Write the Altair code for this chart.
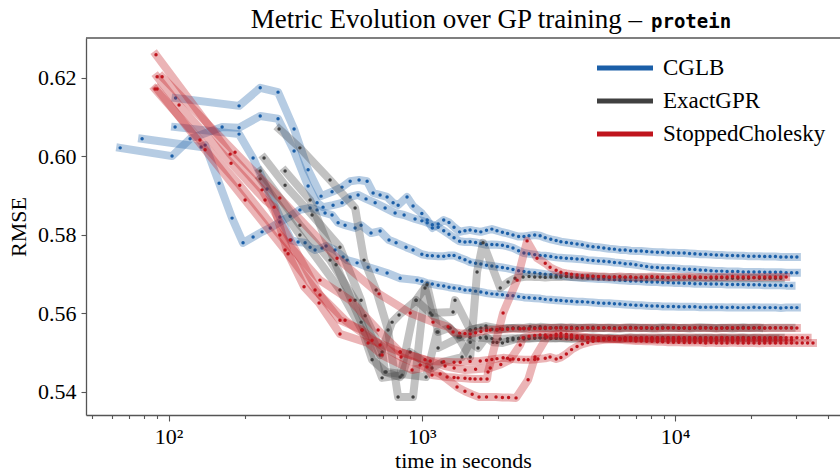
import altair as alt
import pandas as pd

METHODS = ["CGLB", "ExactGPR", "StoppedCholesky"]
COLORS = ["#1b5fa8", "#404040", "#c0151d"]

TITLE_MAIN = "Metric Evolution over GP training \u2013"
TITLE_DATASET = "protein"
X_TITLE = "time in seconds"
Y_TITLE = "RMSE"

# shared evaluation times (seconds) of the dense middle and converged phases
MID_T = [1000, 1050, 1100, 1160, 1220, 1280, 1340, 1410, 1480, 1550, 1630, 1710, 1800, 1890, 1980, 2080, 2180, 2290,
         2410, 2530, 2650, 2790, 2930, 3070, 3230, 3390]
LATE_T = [3540, 3720, 3900, 4100, 4300, 4520, 4740, 4980, 5230, 5490, 5760, 6050, 6350, 6670, 7000, 7350, 7720, 8100,
          8510, 8930, 9380, 9850, 10340, 10860, 11400, 11970, 12570, 13200, 13860, 14550, 15280, 16040, 16850, 17690,
          18570, 19500, 20480, 21500, 22580, 23700, 24890, 26130, 27440, 28810, 30250, 31770, 33350, 35020]

# ---------------- CGLB runs ----------------
CGLB_T = [
    [106.6, 189.8, 230, 270.5, 313, 355.5, 399.9, 442, 484, 521, 565, 608, 642, 684, 729, 770, 806, 874, 923],
    [64.4, 103.2, 121.6, 162.7, 189.8, 230, 270.5, 313, 355.5, 385.7, 407.3, 446.1, 484, 521, 560, 602, 654, 716, 784, 851,
     940],
    [78.6, 134.4, 139.4, 158.3, 178.1, 196.8, 215.6, 233.9, 252, 275, 302, 330, 362, 385.7, 414.8, 442, 467, 497.6, 545, 575.5,
     630, 684, 742, 791, 866, 923],
    [106.1, 189.8, 215.6, 244.8, 275, 304.6, 324.6, 345.9, 362, 378.8, 403.6, 418.7, 454.3, 488.6, 506.7, 554.9, 613.4, 665.6,
     729, 821, 957],
]
CGLB_R = [
    [0.6149, 0.6129, 0.6175, 0.6164, 0.6070, 0.5966, 0.5899, 0.5910, 0.5922, 0.5937, 0.5940, 0.5937, 0.5907, 0.5902, 0.5897,
     0.5882, 0.5876, 0.5897, 0.5874],
    [0.6022, 0.6001, 0.6045, 0.6075, 0.6073, 0.6103, 0.6096, 0.6014, 0.5925, 0.5882, 0.5871, 0.5876, 0.5882, 0.5897, 0.5902,
     0.5892, 0.5882, 0.5869, 0.5856, 0.5851, 0.5841],
    [0.6045, 0.6024, 0.6029, 0.5932, 0.5843, 0.5780, 0.5795, 0.5808, 0.5818, 0.5833, 0.5848, 0.5864, 0.5869, 0.5864, 0.5856,
     0.5851, 0.5831, 0.5825, 0.5818, 0.5825, 0.5805, 0.5810, 0.5787, 0.5780, 0.5769, 0.5762],
    [0.6075, 0.6057, 0.5996, 0.5917, 0.5846, 0.5787, 0.5782, 0.5780, 0.5769, 0.5762, 0.5767, 0.5772, 0.5762, 0.5744, 0.5736,
     0.5729, 0.5718, 0.5711, 0.5703, 0.5690, 0.5685],
]
CGLB_MID = [
    [0.5855, 0.5838, 0.5818, 0.5828, 0.5838, 0.5832, 0.5820, 0.5808, 0.5811, 0.5813, 0.5810, 0.5808, 0.5812, 0.5815, 0.5811,
     0.5807, 0.5804, 0.5800, 0.5796, 0.5796, 0.5798, 0.5800, 0.5798, 0.5793, 0.5789, 0.5786],
    [0.5836, 0.5831, 0.5826, 0.5820, 0.5811, 0.5802, 0.5793, 0.5784, 0.5782, 0.5783, 0.5781, 0.5778, 0.5775, 0.5776, 0.5775,
     0.5774, 0.5771, 0.5767, 0.5760, 0.5754, 0.5752, 0.5750, 0.5748, 0.5747, 0.5745, 0.5743],
    [0.5751, 0.5748, 0.5747, 0.5746, 0.5746, 0.5748, 0.5748, 0.5742, 0.5737, 0.5731, 0.5728, 0.5726, 0.5723, 0.5721, 0.5719,
     0.5717, 0.5715, 0.5712, 0.5709, 0.5707, 0.5705, 0.5704, 0.5702, 0.5700, 0.5699, 0.5697],
    [0.5682, 0.5677, 0.5675, 0.5672, 0.5670, 0.5667, 0.5665, 0.5663, 0.5660, 0.5659, 0.5657, 0.5655, 0.5652, 0.5650, 0.5649,
     0.5648, 0.5646, 0.5645, 0.5643, 0.5641, 0.5640, 0.5639, 0.5638, 0.5636, 0.5635, 0.5634],
]
CGLB_TAIL = [
    [0.5783, 0.5781, 0.5779, 0.5777, 0.5775, 0.5772, 0.5770, 0.5769, 0.5767, 0.5765, 0.5764, 0.5762, 0.5762, 0.5760, 0.5759,
     0.5759, 0.5758, 0.5757, 0.5756, 0.5756, 0.5755, 0.5755, 0.5754, 0.5754, 0.5753, 0.5752, 0.5751, 0.5751, 0.5750, 0.5749,
     0.5749, 0.5748, 0.5748, 0.5747, 0.5747, 0.5746, 0.5746, 0.5746, 0.5745, 0.5745, 0.5745, 0.5744, 0.5744, 0.5744, 0.5744],
    [0.5742, 0.5741, 0.5740, 0.5739, 0.5738, 0.5736, 0.5735, 0.5734, 0.5733, 0.5732, 0.5730, 0.5729, 0.5727, 0.5726, 0.5724,
     0.5722, 0.5720, 0.5718, 0.5717, 0.5716, 0.5716, 0.5715, 0.5714, 0.5713, 0.5713, 0.5712, 0.5711, 0.5710, 0.5709, 0.5708,
     0.5708, 0.5707, 0.5707, 0.5707, 0.5706, 0.5706, 0.5706, 0.5706, 0.5705, 0.5705, 0.5705, 0.5705, 0.5704, 0.5704, 0.5704],
    [0.5696, 0.5695, 0.5693, 0.5692, 0.5691, 0.5690, 0.5689, 0.5688, 0.5688, 0.5687, 0.5686, 0.5685, 0.5684, 0.5683, 0.5683,
     0.5682, 0.5681, 0.5680, 0.5680, 0.5679, 0.5679, 0.5678, 0.5678, 0.5677, 0.5677, 0.5676, 0.5676, 0.5676, 0.5675, 0.5675,
     0.5675, 0.5674, 0.5674, 0.5674, 0.5674, 0.5673, 0.5673, 0.5673, 0.5672, 0.5672, 0.5672, 0.5672, 0.5671, 0.5671],
    [0.5633, 0.5632, 0.5631, 0.5630, 0.5630, 0.5629, 0.5628, 0.5627, 0.5626, 0.5626, 0.5625, 0.5624, 0.5623, 0.5622, 0.5621,
     0.5621, 0.5620, 0.5619, 0.5619, 0.5618, 0.5618, 0.5618, 0.5617, 0.5617, 0.5617, 0.5617, 0.5616, 0.5616, 0.5616, 0.5616,
     0.5616, 0.5615, 0.5616, 0.5615, 0.5615, 0.5615, 0.5616, 0.5615, 0.5615, 0.5615, 0.5615, 0.5614, 0.5615, 0.5615, 0.5615],
]

# ---------------- ExactGPR runs ----------------
EXACT_T = [
    [273.1, 330, 434, 545, 591.4, 659.6, 735.6, 805.6, 923.1, 1029, 1097, 1294, 1390, 1552, 1652, 1744, 2039, 2190, 2334,
     2510, 2650, 2790, 2930, 3070, 3230, 3390],
    [238.2, 288.4, 368.6, 475, 575.5, 597, 696.6, 715.8, 821, 948.7, 1048, 1159, 1281, 1417, 1552, 1630, 1710, 1800, 1890,
     1980, 2080, 2180, 2290, 2410, 2530, 2650, 2790, 2930, 3070, 3230, 3390],
    [288.4, 362, 458.4, 575.5, 696.6, 835.3, 899, 1097, 1201.5, 1441, 1552, 1667, 1792, 1910, 1980, 2080, 2180, 2290, 2410,
     2530, 2650, 2790, 2930, 3070, 3230, 3390],
    [230, 330, 434, 545, 684, 762.9, 812.8, 948.7, 1079, 1328, 1352, 1552, 1792, 2039, 2290, 2410, 2530, 2675, 2790, 2930,
     3070, 3230, 3390],
    [230, 330, 475, 580.7, 636.1, 722.3, 1039, 1148, 1159, 1417, 1550, 1700, 1800, 1890, 2039, 2180, 2290, 2410, 2530, 2650,
     2790, 2930, 3070, 3230, 3390],
]
EXACT_R = [
    [0.6070, 0.6022, 0.5940, 0.5869, 0.5736, 0.5660, 0.5558, 0.5387, 0.5387, 0.5665, 0.5596, 0.5563, 0.5540, 0.5489, 0.5706,
     0.5780, 0.5665, 0.5680, 0.5690, 0.5693, 0.5694, 0.5693, 0.5693, 0.5692, 0.5693, 0.5693],
    [0.5996, 0.5927, 0.5851, 0.5769, 0.5634, 0.5594, 0.5502, 0.5451, 0.5438, 0.5634, 0.5673, 0.5553, 0.5563, 0.5540, 0.5558,
     0.5561, 0.5563, 0.5562, 0.5560, 0.5558, 0.5560, 0.5563, 0.5563, 0.5562, 0.5561, 0.5562, 0.5564, 0.5566, 0.5565, 0.5564,
     0.5564],
    [0.5963, 0.5889, 0.5724, 0.5578, 0.5436, 0.5443, 0.5502, 0.5461, 0.5476, 0.5489, 0.5527, 0.5512, 0.5540, 0.5527, 0.5526,
     0.5525, 0.5529, 0.5533, 0.5537, 0.5538, 0.5537, 0.5538, 0.5538, 0.5539, 0.5538, 0.5537],
    [0.5963, 0.5825, 0.5736, 0.5634, 0.5494, 0.5578, 0.5596, 0.5634, 0.5601, 0.5604, 0.5634, 0.5558, 0.5568, 0.5561, 0.5563,
     0.5564, 0.5563, 0.5566, 0.5564, 0.5563, 0.5562, 0.5563, 0.5564],
    [0.5943, 0.5800, 0.5660, 0.5558, 0.5482, 0.5451, 0.5438, 0.5553, 0.5512, 0.5540, 0.5539, 0.5538, 0.5537, 0.5536, 0.5535,
     0.5536, 0.5537, 0.5536, 0.5535, 0.5536, 0.5537, 0.5538, 0.5537, 0.5536, 0.5537],
]
EXACT_TAIL = [
    [0.5693, 0.5694, 0.5693, 0.5693, 0.5692, 0.5693, 0.5694, 0.5693, 0.5693, 0.5692, 0.5693, 0.5692, 0.5692, 0.5693, 0.5692,
     0.5692, 0.5691, 0.5692, 0.5692, 0.5691, 0.5691, 0.5692, 0.5691, 0.5691, 0.5691, 0.5690, 0.5691, 0.5691, 0.5690, 0.5690,
     0.5691, 0.5690, 0.5690, 0.5690, 0.5690, 0.5690, 0.5691, 0.5690, 0.5690, 0.5690, 0.5690, 0.5690],
    [0.5564, 0.5563, 0.5565, 0.5564, 0.5563, 0.5564, 0.5565, 0.5564, 0.5563, 0.5564, 0.5564, 0.5563, 0.5564, 0.5565, 0.5564,
     0.5564, 0.5563, 0.5564, 0.5564, 0.5565, 0.5564, 0.5564, 0.5563, 0.5564, 0.5564, 0.5564, 0.5565, 0.5564, 0.5564, 0.5563,
     0.5564, 0.5564, 0.5564, 0.5564, 0.5565, 0.5564, 0.5564, 0.5564, 0.5563, 0.5564, 0.5564, 0.5564, 0.5564, 0.5564],
    [0.5538, 0.5537, 0.5539, 0.5538, 0.5537, 0.5538, 0.5539, 0.5538, 0.5537, 0.5538, 0.5538, 0.5537, 0.5538, 0.5539, 0.5538,
     0.5538, 0.5537, 0.5538, 0.5538, 0.5539, 0.5538, 0.5538, 0.5537, 0.5538, 0.5538, 0.5538, 0.5539, 0.5538, 0.5538, 0.5537,
     0.5538, 0.5538, 0.5538, 0.5538, 0.5539, 0.5538, 0.5538, 0.5538, 0.5537, 0.5538, 0.5538, 0.5538],
    [0.5565, 0.5563, 0.5562, 0.5563, 0.5564, 0.5563, 0.5562, 0.5563, 0.5563, 0.5564, 0.5563, 0.5562, 0.5563, 0.5563, 0.5564,
     0.5563, 0.5563, 0.5562, 0.5563, 0.5563, 0.5564, 0.5563, 0.5563, 0.5563, 0.5562, 0.5563, 0.5563, 0.5564, 0.5563, 0.5563,
     0.5563, 0.5563, 0.5562, 0.5563, 0.5563, 0.5563, 0.5564, 0.5563],
    [0.5537, 0.5536, 0.5535, 0.5536, 0.5537, 0.5536, 0.5535, 0.5536, 0.5536, 0.5537, 0.5536, 0.5535, 0.5536, 0.5536, 0.5537,
     0.5536, 0.5536, 0.5535, 0.5536, 0.5536, 0.5537, 0.5536, 0.5536, 0.5536, 0.5535, 0.5536, 0.5536, 0.5537, 0.5536, 0.5536,
     0.5536, 0.5536, 0.5535, 0.5536, 0.5536, 0.5536, 0.5537, 0.5536, 0.5536, 0.5536, 0.5536],
]

# ---------------- StoppedCholesky runs ----------------
STOP_T = [
    [90.1, 110.0, 176.5, 240.4, 261, 296.4, 342.7, 392.8, 475, 613.4, 696.6, 914.8, 1048, 1097, 1258, 1340, 1390, 1480, 1550,
     1622, 1710, 1809, 1825, 2093, 2377, 2603, 2849, 3070, 3208, 3390],
    [89.2, 175, 233.9, 302, 396, 475, 580.7, 684, 827.8, 985, 1181, 1377, 1480, 1580, 1682, 1800, 1963, 2080, 2200, 2355,
     2627, 2797, 3119, 3390],
    [88.4, 133, 191, 275, 396, 521, 671.7, 821, 1079, 1220, 1340, 1417, 1550, 1700, 1800, 1890, 1980, 2093, 2180, 2290, 2410,
     2530, 2627, 2790, 2873, 3070, 3208, 3390],
    [94.3, 183, 275, 462.6, 677.8, 899, 1107, 1269, 1328, 1410, 1480, 1552, 1630, 1710, 1800, 1862, 1980, 2080, 2180, 2290,
     2444, 2530, 2650, 2790, 2930, 3070, 3208, 3390],
    [90.1, 139.4, 200.5, 288.4, 378.8, 497.6, 636.1, 821, 1029, 1235, 1341, 1481, 1630, 1862, 2050, 2231, 2444, 2510, 2650,
     2790, 2930, 3070, 3230, 3390],
]
STOP_R = [
    [0.6203, 0.6131, 0.5983, 0.5889, 0.5871, 0.5752, 0.5668, 0.5627, 0.5548, 0.5525, 0.5494, 0.5456, 0.5464, 0.5443, 0.5438,
     0.5437, 0.5436, 0.5435, 0.5434, 0.5433, 0.5433, 0.5433, 0.5451, 0.5601, 0.5685, 0.5785, 0.5741, 0.5728, 0.5718, 0.5710],
    [0.6259, 0.6006, 0.5915, 0.5787, 0.5647, 0.5583, 0.5558, 0.5520, 0.5489, 0.5469, 0.5446, 0.5413, 0.5402, 0.5394, 0.5387,
     0.5387, 0.5387, 0.5386, 0.5386, 0.5385, 0.5431, 0.5489, 0.5540, 0.5547],
    [0.6172, 0.6042, 0.5927, 0.5800, 0.5685, 0.5634, 0.5558, 0.5502, 0.5479, 0.5477, 0.5476, 0.5476, 0.5478, 0.5479, 0.5481,
     0.5483, 0.5485, 0.5487, 0.5486, 0.5484, 0.5483, 0.5482, 0.5482, 0.5483, 0.5484, 0.5486, 0.5489, 0.5484],
    [0.6203, 0.6011, 0.5894, 0.5741, 0.5650, 0.5601, 0.5578, 0.5566, 0.5553, 0.5550, 0.5549, 0.5548, 0.5551, 0.5554, 0.5557,
     0.5558, 0.5559, 0.5560, 0.5560, 0.5561, 0.5561, 0.5562, 0.5561, 0.5562, 0.5562, 0.5563, 0.5563, 0.5563],
    [0.6172, 0.6017, 0.5889, 0.5762, 0.5660, 0.5583, 0.5532, 0.5502, 0.5482, 0.5466, 0.5461, 0.5456, 0.5458, 0.5461, 0.5470,
     0.5482, 0.5520, 0.5538, 0.5542, 0.5544, 0.5545, 0.5545, 0.5544, 0.5543],
]
STOP_TAIL = [
    [0.5705, 0.5702, 0.5700, 0.5698, 0.5697, 0.5696, 0.5695, 0.5694, 0.5694, 0.5693, 0.5693, 0.5694, 0.5693, 0.5693, 0.5692,
     0.5693, 0.5693, 0.5694, 0.5693, 0.5693, 0.5692, 0.5693, 0.5693, 0.5693, 0.5694, 0.5693, 0.5693, 0.5692, 0.5693, 0.5693,
     0.5693, 0.5693, 0.5694, 0.5693, 0.5693, 0.5693, 0.5692, 0.5693, 0.5693, 0.5693, 0.5693, 0.5693, 0.5693],
    [0.5549, 0.5547, 0.5545, 0.5543, 0.5541, 0.5539, 0.5538, 0.5537, 0.5536, 0.5535, 0.5534, 0.5533, 0.5532, 0.5531, 0.5530,
     0.5530, 0.5529, 0.5529, 0.5528, 0.5528, 0.5527, 0.5527, 0.5527, 0.5526, 0.5526, 0.5526, 0.5526, 0.5525, 0.5526, 0.5525,
     0.5525, 0.5525, 0.5526, 0.5525, 0.5525, 0.5525, 0.5525, 0.5524, 0.5525, 0.5525, 0.5525, 0.5525, 0.5525, 0.5525, 0.5525,
     0.5525, 0.5525, 0.5525],
    [0.5488, 0.5497, 0.5508, 0.5516, 0.5522, 0.5526, 0.5529, 0.5531, 0.5533, 0.5534, 0.5535, 0.5536, 0.5537, 0.5538, 0.5537,
     0.5538, 0.5539, 0.5538, 0.5538, 0.5537, 0.5538, 0.5538, 0.5539, 0.5538, 0.5538, 0.5538, 0.5537, 0.5538, 0.5538, 0.5538,
     0.5539, 0.5538, 0.5538, 0.5538, 0.5538, 0.5537, 0.5538, 0.5538, 0.5538, 0.5538, 0.5538, 0.5538, 0.5538, 0.5538, 0.5538,
     0.5538, 0.5538],
    [0.5563, 0.5564, 0.5563, 0.5562, 0.5563, 0.5564, 0.5563, 0.5563, 0.5564, 0.5563, 0.5562, 0.5563, 0.5564, 0.5563, 0.5563,
     0.5563, 0.5564, 0.5563, 0.5562, 0.5563, 0.5563, 0.5564, 0.5563, 0.5563, 0.5563, 0.5564, 0.5563, 0.5563, 0.5563, 0.5562,
     0.5563, 0.5563, 0.5564, 0.5563, 0.5563, 0.5563, 0.5563, 0.5564, 0.5563, 0.5563, 0.5563, 0.5563, 0.5563, 0.5563, 0.5563],
    [0.5542, 0.5541, 0.5540, 0.5539, 0.5538, 0.5538, 0.5537, 0.5537, 0.5536, 0.5536, 0.5535, 0.5535, 0.5535, 0.5534, 0.5534,
     0.5534, 0.5533, 0.5534, 0.5533, 0.5533, 0.5533, 0.5532, 0.5533, 0.5532, 0.5532, 0.5532, 0.5532, 0.5531, 0.5532, 0.5532,
     0.5532, 0.5532, 0.5531, 0.5532, 0.5532, 0.5532, 0.5532, 0.5532, 0.5531, 0.5532, 0.5532, 0.5532, 0.5532, 0.5532],
]

X_TICKS = [50, 60, 70, 80, 90, 100, 200, 300, 400, 500, 600, 700, 800, 900, 1000, 2000, 3000, 4000, 5000,
           6000, 7000, 8000, 9000, 10000, 20000, 30000, 40000]
Y_TICKS = [0.54, 0.56, 0.58, 0.60, 0.62]

rows = []
groups = [
    ("CGLB", CGLB_T, CGLB_R, CGLB_MID, CGLB_TAIL),
    ("ExactGPR", EXACT_T, EXACT_R, [[]] * len(EXACT_T), EXACT_TAIL),
    ("StoppedCholesky", STOP_T, STOP_R, [[]] * len(STOP_T), STOP_TAIL),
]
for method, TT, RR, MM, TAIL in groups:
    for i, (ts, rs, mid, tail) in enumerate(zip(TT, RR, MM, TAIL)):
        pts = list(zip(ts, rs)) + list(zip(MID_T, mid)) + list(zip(LATE_T, tail))
        for t, r in pts:
            rows.append({"method": method, "run": f"{method}-{i}", "time": t, "rmse": r})
df = pd.DataFrame(rows)

W, H = 754, 377
SERIF = "Liberation Serif"
AX = "#555555"

xscale = alt.Scale(type="log", domain=[47.2, 44770], nice=False)
yscale = alt.Scale(domain=[0.53414, 0.63019], nice=False, zero=False)
cscale = alt.Scale(domain=METHODS, range=COLORS)

xaxis = alt.Axis(
    values=X_TICKS,
    labelExpr="datum.value == 100 ? '10\u00b2' : datum.value == 1000 ? '10\u00b3' : datum.value == 10000 ? '10\u2074' : ''",
    tickSize={"condition": {"test": "datum.value == 100 || datum.value == 1000 || datum.value == 10000", "value": 6},
              "value": 3.5},
    labelOverlap=False, labelFlush=False, labelPadding=5,
    title=X_TITLE, titlePadding=3,
)
yaxis = alt.Axis(values=Y_TICKS, format=".2f", tickSize=5, labelPadding=5, title=Y_TITLE, titlePadding=7)

X = alt.X("time:Q", scale=xscale, axis=xaxis)
Y = alt.Y("rmse:Q", scale=yscale, axis=yaxis)

layers = []
for m in METHODS:
    sub = alt.Chart(df).transform_filter(alt.datum.method == m)
    layers.append(
        sub.mark_line(strokeWidth=8, opacity=0.32, strokeJoin="round", strokeCap="square").encode(
            x=X, y=Y, stroke=alt.Stroke("method:N", scale=cscale, legend=None), detail="run:N"
        )
    )
    layers.append(
        sub.mark_circle(size=12, opacity=1).encode(
            x=X, y=Y, fill=alt.Fill("method:N", scale=cscale, legend=None), detail="run:N"
        )
    )

# top spine
layers.append(
    alt.Chart(pd.DataFrame({"a": [0]})).mark_rule(color=AX, strokeWidth=1.3).encode(
        x=alt.value(0), x2=alt.value(W), y=alt.value(0)
    )
)

# title (two fonts)
layers.append(
    alt.Chart(pd.DataFrame({"txt": [TITLE_MAIN]})).mark_text(
        font=SERIF, fontSize=27, align="right", baseline="alphabetic", color="black"
    ).encode(text="txt:N", x=alt.value(556), y=alt.value(-10))
)
layers.append(
    alt.Chart(pd.DataFrame({"txt": [TITLE_DATASET]})).mark_text(
        font="DejaVu Sans Mono", fontSize=19, fontWeight="bold", align="left", baseline="alphabetic", color="black"
    ).encode(text="txt:N", x=alt.value(565), y=alt.value(-10))
)

# legend
for i, (m, c) in enumerate(zip(METHODS, COLORS)):
    ypos = 30 + 33 * i
    layers.append(
        alt.Chart(pd.DataFrame({"m": [m]})).mark_rule(color=c, strokeWidth=5).encode(
            x=alt.value(511), x2=alt.value(567), y=alt.value(ypos)
        )
    )
    layers.append(
        alt.Chart(pd.DataFrame({"m": [m]})).mark_text(
            font=SERIF, fontSize=23, align="left", baseline="middle", color="black"
        ).encode(text="m:N", x=alt.value(577), y=alt.value(ypos))
    )

chart = alt.layer(*layers).properties(
    width=W, height=H,
    autosize=alt.AutoSizeParams(type="none"),
    padding={"left": 86, "top": 38, "right": 0, "bottom": 60},
).configure_view(stroke=None).configure_axis(
    domainColor=AX, tickColor=AX, domainWidth=1.3, tickWidth=1.1, grid=False,
    labelFont=SERIF, titleFont=SERIF, labelFontSize=22, titleFontSize=22,
    titleFontWeight="normal", labelColor="black", titleColor="black",
)

chart.save("out.html", embed_options={"renderer": "svg", "actions": False})
